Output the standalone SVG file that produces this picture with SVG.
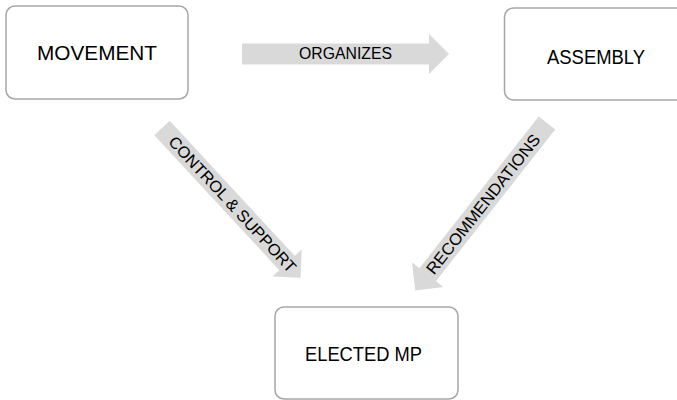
<svg xmlns="http://www.w3.org/2000/svg" width="677" height="400" viewBox="0 0 677 400">
  <style>
    .box { fill: #ffffff; stroke: #a6a6a6; stroke-width: 1.5; }
    .arrow { fill: #d9d9d9; stroke: none; }
    .nlabel { font-family: "Liberation Sans", Arial, sans-serif; font-size: 20.5px; fill: #000000; text-anchor: middle; }
    .alabel { font-family: "Liberation Sans", Arial, sans-serif; font-size: 16.3px; fill: #000000; text-anchor: middle; }
  </style>
  <rect width="677" height="400" fill="#ffffff"/>
  <g id="connectors">
    <g id="edge-organizes">
      <path class="arrow" d="M242,43.5 H429 V34 L449,54 L429,74 V64.5 H242 Z"/>
      <text class="alabel" x="345.5" y="58.5" textLength="93" lengthAdjust="spacingAndGlyphs">ORGANIZES</text>
    </g>
    <g id="edge-control">
      <path class="arrow" transform="translate(162,128) rotate(47.2)" d="M0,-10.5 H184 V-20 L204,0 L184,20 V10.5 H0 Z"/>
      <text class="alabel" transform="translate(232.6,204.3) rotate(47.2)" x="0" y="5.8" textLength="179" lengthAdjust="spacingAndGlyphs">CONTROL &amp; SUPPORT</text>
    </g>
    <g id="edge-recommendations">
      <path class="arrow" transform="translate(547,123) rotate(128.2)" d="M0,-10.5 H193 V-20 L213,0 L193,20 V10.5 H0 Z"/>
      <text class="alabel" transform="translate(483,204) rotate(-51.8)" x="0" y="5.8" textLength="173" lengthAdjust="spacingAndGlyphs">RECOMMENDATIONS</text>
    </g>
  </g>
  <g id="node-movement">
    <rect class="box" x="6" y="6" width="182" height="93" rx="9" ry="9"/>
    <text class="nlabel" x="97" y="60" textLength="120" lengthAdjust="spacingAndGlyphs">MOVEMENT</text>
  </g>
  <g id="node-assembly">
    <rect class="box" x="504.5" y="8" width="182" height="92" rx="9" ry="9"/>
    <text class="nlabel" x="596" y="63.5" textLength="98" lengthAdjust="spacingAndGlyphs">ASSEMBLY</text>
  </g>
  <g id="node-elected">
    <rect class="box" x="275" y="307" width="183" height="92" rx="9" ry="9"/>
    <text class="nlabel" x="363.5" y="361" textLength="117" lengthAdjust="spacingAndGlyphs">ELECTED MP</text>
  </g>
</svg>
